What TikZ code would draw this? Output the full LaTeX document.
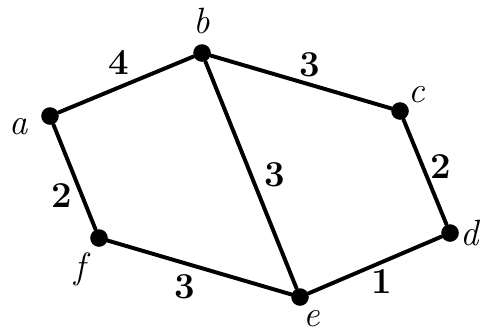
\documentclass[tikz,border=0pt]{standalone}
\usepackage{fontspec}
\usetikzlibrary{positioning}

\begin{document}
\begin{tikzpicture}[x=0.25mm,y=-0.25mm,
  every label/.style={font=\fontsize{26}{30}\selectfont\itshape,inner sep=1pt},
  vtx/.style={circle,fill=black,inner sep=0pt,minimum size=4.4mm,label distance=1.6mm},
  edge/.style={line width=2.8pt,line cap=round},
  wt/.style={font=\fontsize{26}{30}\selectfont\bfseries,inner sep=4pt}]
\useasboundingbox (0,0) rectangle (485,334);
\node[vtx,label={[label distance=2.8mm]183:a}] (a) at (50,116) {};
\node[vtx,label={[label distance=2.2mm]90:b}] (b) at (202,53) {};
\node[vtx,label=45:c] (c) at (400,111) {};
\node[vtx,label=0:d] (d) at (450,233) {};
\node[vtx,label={[label distance=0.8mm]280:e}] (e) at (300,297) {};
\node[vtx,label={[label distance=2.2mm]228:f}] (f) at (99,238) {};
\draw[edge] (a) -- node[wt,above,pos=0.45,yshift=4pt] {4} (b);
\draw[edge] (b) -- node[wt,above,pos=0.55] {3} (c);
\draw[edge] (c) -- node[wt,right,pos=0.45] {2} (d);
\draw[edge] (b) -- node[wt,right,pos=0.5,xshift=4pt] {3} (e);
\draw[edge] (a) -- node[wt,left,pos=0.68,xshift=-2pt] {2} (f);
\draw[edge] (f) -- node[wt,below,pos=0.42,yshift=-3pt] {3} (e);
\draw[edge] (e) -- node[wt,below,pos=0.55] {1} (d);
\end{tikzpicture}
\end{document}
